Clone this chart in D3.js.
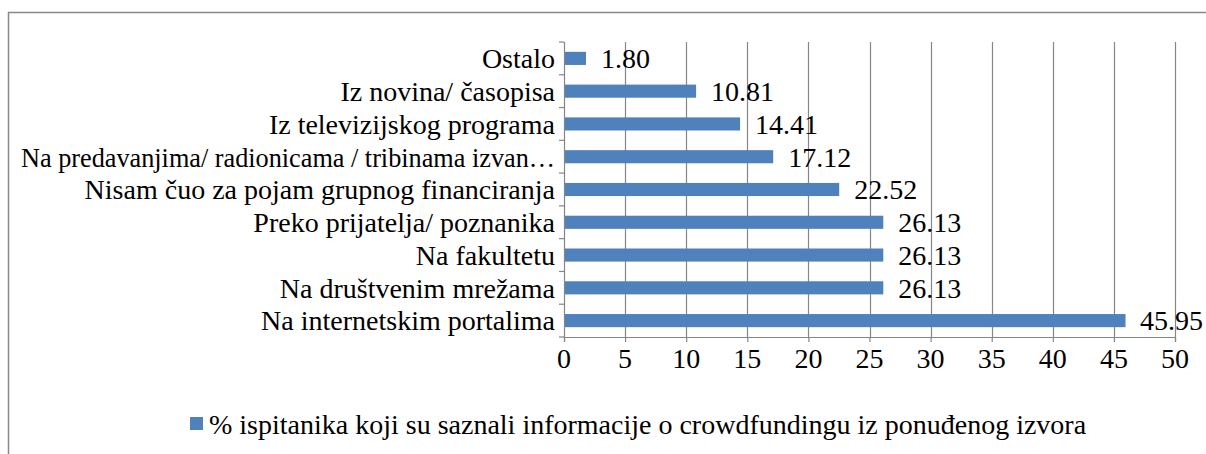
<!DOCTYPE html>
<html><head><meta charset="utf-8">
<script src="https://cdn.jsdelivr.net/npm/d3@7"></script>
</head>
<body style="margin:0"><svg id="c" width="1206" height="454"></svg>
<script>
const categories = ["Ostalo","Iz novina/ časopisa","Iz televizijskog programa","Na predavanjima/ radionicama / tribinama izvan…","Nisam čuo za pojam grupnog financiranja","Preko prijatelja/ poznanika","Na fakultetu","Na društvenim mrežama","Na internetskim portalima"];
const values = [1.80,10.81,14.41,17.12,22.52,26.13,26.13,26.13,45.95];
const xTicks = [0,5,10,15,20,25,30,35,40,45,50];
const seriesName = "% ispitanika koji su saznali informacije o crowdfundingu iz ponuđenog izvora";

const svg = d3.select("#c");
const pL=564, pR=1175, pT=42, pB=337;
const x = d3.scaleLinear().domain([0,50]).range([pL,pR]);
const y = d3.scaleBand().domain(categories).range([pT,pB]).paddingInner(0.6).paddingOuter(0.3);
const serif = () => '"Liberation Serif"';
const big = () => "28px";

svg.append("path").attr("d","M8.5,454 L8.5,12.5 L1206,12.5").attr("fill","none").attr("stroke","#888").attr("stroke-width",1.5);

svg.selectAll("line.grid").data(xTicks.slice(1)).join("line").attr("class","grid")
  .attr("x1",d=>Math.round(x(d))+0.5).attr("x2",d=>Math.round(x(d))+0.5)
  .attr("y1",pT).attr("y2",pB).attr("stroke","#868686").attr("stroke-width",1.2);

svg.selectAll("rect.bar").data(values).join("rect").attr("class","bar")
  .attr("x",x(0)).attr("y",(d,i)=>y(categories[i]))
  .attr("width",d=>x(d)-x(0)).attr("height",y.bandwidth())
  .attr("fill","#4F81BD");

// x axis line + ticks drawn by d3 axis, labels as own texts
const gx = svg.append("g").attr("transform",`translate(0,${pB})`)
  .call(d3.axisBottom(x).tickValues(xTicks).tickSize(5).tickFormat(""));
gx.select(".domain").attr("stroke","#868686").attr("stroke-width",1.2);
gx.selectAll(".tick line").attr("stroke","#868686").attr("stroke-width",1.2);

const gy = svg.append("g").attr("transform",`translate(${pL},0)`)
  .call(d3.axisLeft(y).tickSize(0).tickFormat(""));
gy.select(".domain").attr("stroke","#868686").attr("stroke-width",1.2).attr("d",`M0.5,${pT}V${pB}`);
const step = (pB-pT)/categories.length;
svg.selectAll("line.ytick").data(d3.range(categories.length+1)).join("line").attr("class","ytick")
  .attr("x1",pL-5).attr("x2",pL).attr("y1",i=>pT+i*step).attr("y2",i=>pT+i*step)
  .attr("stroke","#868686").attr("stroke-width",1.2);

// texts directly under svg root
svg.selectAll("text.xl").data(xTicks).join("text").attr("class","xl")
  .style("font-family",serif).style("font-size",big)
  .attr("x",d=>x(d)).attr("y",pB+31).attr("text-anchor","middle").text(d=>d3.format("d")(d));

svg.selectAll("text.yl").data(categories).join("text").attr("class","yl")
  .style("font-family",serif).style("font-size",big)
  .attr("x",pL-9).attr("y",d=>y(d)+y.bandwidth()/2).attr("dy","0.35em").attr("text-anchor","end").text(d=>d)
  .each(function(){ if(this.getComputedTextLength()>pL-30){ d3.select(this).attr("textLength",pL-30).attr("lengthAdjust","spacingAndGlyphs"); } });

svg.selectAll("text.vl").data(values).join("text").attr("class","vl")
  .style("font-family",serif).style("font-size",big)
  .attr("y",(d,i)=>y(categories[i])+y.bandwidth()/2).attr("dy","0.35em").text(d=>d.toFixed(2))
  .attr("x",function(d){const w=this.getComputedTextLength();return Math.min(x(d)+15,1203-w);});

svg.append("rect").attr("x",190).attr("y",417).attr("width",13).attr("height",13).attr("fill","#4F81BD");
svg.selectAll("text.lg").data([seriesName]).join("text").attr("class","lg")
  .style("font-family",serif).style("font-size",big)
  .attr("x",209).attr("y",424).attr("dy","0.35em").text(d=>d);
</script></body></html>
